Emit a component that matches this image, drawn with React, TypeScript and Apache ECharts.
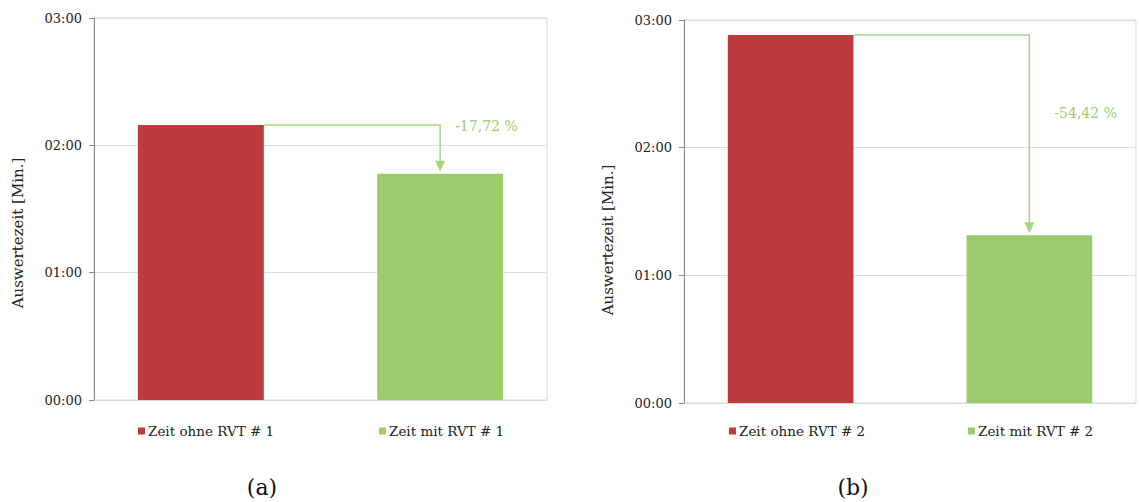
import React, { useEffect, useRef } from "react";
import * as echarts from "echarts";

// ---- Data (minutes) ----
const categories = [""];
const seriesNamesA = ["Zeit ohne RVT # 1", "Zeit mit RVT # 1"];
const valuesA = [2.16, 1.777];
const seriesNamesB = ["Zeit ohne RVT # 2", "Zeit mit RVT # 2"];
const valuesB = [2.882, 1.313];
const changeLabels = ["-17,72 %", "-54,42 %"];
const changeLabelAt = [2.15, 2.27];
const yTicks = [0, 1, 2, 3];
const yAxisTitle = "Auswertezeit [Min.]";
const captions = ["(a)", "(b)"];

const RED = "#be3b3d";
const GREEN = "#9ccb6b";
const ARROW = "#a7d585";
const FONT = "DejaVu Serif";
const BAR_RATIO = 0.278;
const GAP_RATIO = 0.9;

const fmt = (v: number) => {
  const m = Math.floor(v + 1e-9);
  const s = Math.round((v - m) * 60);
  return `${String(m).padStart(2, "0")}:${String(s).padStart(2, "0")}`;
};

export default function App() {
  const ref = useRef<HTMLDivElement>(null);
  useEffect(() => {
    if (!ref.current) return;
    const chart = echarts.init(ref.current, undefined, { renderer: "svg" });

    const grids = [
      { left: 94, top: 18, width: 453, height: 382 },
      { left: 684, top: 20, width: 452, height: 383 },
    ];
    const names = [seriesNamesA, seriesNamesB];
    const vals = [valuesA, valuesB];
    const labelDx = [15, 25];
    const legendLeft = [
      [138, 379],
      [729, 968],
    ];

    const series: any[] = [];
    const legends: any[] = [];
    [0, 1].forEach((i) => {
      names[i].forEach((n, j) => {
        series.push({
          type: "bar",
          name: n,
          xAxisIndex: i,
          yAxisIndex: i,
          data: [vals[i][j]],
          barWidth: `${BAR_RATIO * 100}%`,
          barGap: `${GAP_RATIO * 100}%`,
          itemStyle: { color: j === 0 ? RED : GREEN },
        });
        legends.push({
          data: [n],
          left: legendLeft[i][j],
          top: 424,
          padding: 0,
          icon: "rect",
          itemWidth: 7,
          itemHeight: 7,
          itemGap: 3,
          selectedMode: false,
          textStyle: { fontFamily: FONT, fontSize: 13.5, color: "#222", padding: [0, 0, 0, -2] },
        });
      });
      series.push({
        type: "custom",
        xAxisIndex: i,
        yAxisIndex: i,
        silent: true,
        clip: false,
        z: 5,
        data: [[0, vals[i][0], vals[i][1], changeLabelAt[i]]],
        encode: { x: 0, y: 1 },
        renderItem: (params: any, api: any) => {
          const v0 = api.value(1);
          const v1 = api.value(2);
          const lv = api.value(3);
          const c0 = api.coord([0, v0]);
          const c1 = api.coord([0, v1]);
          const band = api.size([1, 0])[0];
          const w = band * BAR_RATIO;
          const g = w * GAP_RATIO;
          const total = 2 * w + g;
          const x0 = c0[0] - total / 2 + w;
          const x1 = c0[0] + total / 2 - w / 2;
          const y0 = c0[1];
          const y1 = c1[1] - 2;
          const ly = api.coord([0, lv])[1];
          return {
            type: "group",
            children: [
              {
                type: "polyline",
                shape: { points: [[x0, y0], [x1, y0], [x1, y1 - 8]] },
                style: { stroke: ARROW, lineWidth: 1.5, fill: null },
              },
              {
                type: "polygon",
                shape: { points: [[x1 - 5, y1 - 11], [x1 + 5, y1 - 11], [x1, y1]] },
                style: { fill: ARROW },
              },
              {
                type: "text",
                x: x1 + labelDx[i],
                y: ly,
                style: {
                  text: changeLabels[i],
                  fill: GREEN,
                  font: `14px "${FONT}"`,
                  verticalAlign: "middle",
                  align: "left",
                },
              },
            ],
          };
        },
      });
    });

    const option: any = {
      animation: false,
      backgroundColor: "#fff",
      grid: grids.map((g) => ({ ...g, show: true, borderColor: "#d9d9d9", borderWidth: 1, containLabel: false })),
      legend: legends,
      xAxis: [0, 1].map((i) => ({
        type: "category",
        gridIndex: i,
        data: categories,
        axisLine: { show: true, lineStyle: { color: "#d9d9d9", width: 1 } },
        axisTick: { show: false },
        axisLabel: { show: false },
        splitLine: { show: false },
      })),
      yAxis: [0, 1].map((i) => ({
        type: "value",
        gridIndex: i,
        min: yTicks[0],
        max: yTicks[yTicks.length - 1],
        interval: 1,
        axisLine: { show: true, lineStyle: { color: "#8a8a8a", width: 1 } },
        axisTick: { show: true, length: 5, lineStyle: { color: "#8a8a8a" } },
        axisLabel: {
          margin: 12,
          fontFamily: FONT,
          fontSize: 13,
          color: "#222",
          formatter: (v: number) => fmt(v),
        },
        splitLine: { show: true, lineStyle: { color: "#dedede", width: 1 } },
      })),
      series,
      graphic: [
        {
          type: "text",
          x: 18,
          y: 233,
          rotation: Math.PI / 2,
          style: { text: yAxisTitle, font: `15px "${FONT}"`, fill: "#222", align: "center", verticalAlign: "middle" },
        },
        {
          type: "text",
          x: 608,
          y: 240,
          rotation: Math.PI / 2,
          style: { text: yAxisTitle, font: `15px "${FONT}"`, fill: "#222", align: "center", verticalAlign: "middle" },
        },
        {
          type: "text",
          x: 262,
          y: 487,
          style: { text: captions[0], font: `22px "${FONT}"`, fill: "#111", align: "center", verticalAlign: "middle" },
        },
        {
          type: "text",
          x: 853,
          y: 487,
          style: { text: captions[1], font: `22px "${FONT}"`, fill: "#111", align: "center", verticalAlign: "middle" },
        },
      ],
    };
    chart.setOption(option);
    return () => chart.dispose();
  }, []);

  return (
    <div
      ref={ref}
      style={{ position: "fixed", left: 0, top: 0, width: 1139, height: 502 }}
    />
  );
}
